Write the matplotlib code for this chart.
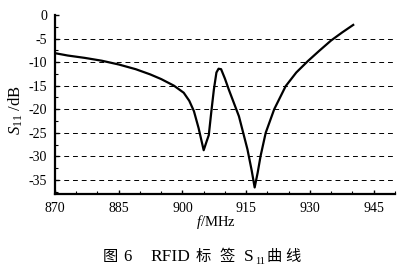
import matplotlib
matplotlib.use("Agg")
import matplotlib.pyplot as plt
import numpy as np
from matplotlib.ticker import MultipleLocator

# S11 curve
freq = [870, 873, 877, 881, 885, 889, 892.4, 895, 898, 900.3, 901.6, 902.7, 903.8, 905.0,
        905.7, 906.2, 906.8, 907.4, 908.0, 908.5, 909.1, 910.0, 910.9, 913.3, 915.3, 916.3, 917.0,
        917.7, 918.4, 919.6, 921.6, 924.3, 926.8, 929.5, 932.2, 935.0, 937.6, 940.2]
s11 = [-8.1, -8.6, -9.1, -9.7, -10.5, -11.5, -12.6, -13.6, -15.0, -16.5, -18.2, -20.4, -24.0, -28.7,
       -26.8, -25.5, -20.5, -15.8, -12.2, -11.4, -11.5, -13.5, -15.8, -21.5, -28.5, -33.0, -36.6,
       -33.5, -29.9, -25.0, -20.0, -15.1, -12.2, -9.8, -7.6, -5.4, -3.7, -2.1]

xticks = [870, 885, 900, 915, 930, 945]
yticks = [0, -5, -10, -15, -20, -25, -30, -35]
grid_levels = [-5, -10, -15, -20, -25, -30, -35]

plt.rcParams['font.family'] = ['Liberation Serif', 'Noto Sans CJK SC']
plt.rcParams['mathtext.fontset'] = 'custom'
plt.rcParams['mathtext.rm'] = 'Liberation Serif'
plt.rcParams['mathtext.it'] = 'Liberation Serif:italic'

W, H = 418, 278
fig = plt.figure(figsize=(W / 100, H / 100), dpi=100)
ax = fig.add_axes([0.1316, 0.302, 0.813, 0.644])

for g in grid_levels:
    ax.axhline(g, color="black", lw=0.7, ls=(0, (5, 4)), zorder=1)

ax.plot(freq, s11, color="black", lw=1.6, zorder=3)

ax.set_xlim(870, 950)
ax.set_ylim(-38, 0)
ax.set_xticks(xticks)
ax.set_yticks(yticks)
ax.set_yticklabels([str(v) for v in yticks])
ax.xaxis.set_minor_locator(MultipleLocator(5))
ax.yaxis.set_minor_locator(MultipleLocator(2.5))
ax.tick_params(direction="in", labelsize=10, length=3, width=1)
ax.tick_params(axis="x", pad=6)
ax.tick_params(axis="y", pad=5.5)
ax.tick_params(which="minor", direction="in", length=2, width=0.8)

for s in ["top", "right"]:
    ax.spines[s].set_visible(False)
for s in ["left", "bottom"]:
    ax.spines[s].set_linewidth(1.6)

ax.set_xlabel(r"$f$/MHz", fontsize=10.5)
ax.xaxis.set_label_coords(0.474, -0.105)
ax.set_ylabel(r"$S_{11}$ /dB", fontsize=12)
ax.yaxis.set_label_coords(-0.088, 0.47)

# caption placed piece by piece (CJK must not go through mathtext)
base = 1 - 261 / H
caption = [("图", 103, 11), ("6", 123, 12), ("RFID", 150, 12.5), ("标", 196, 11),
           ("签", 219, 11), ("S", 244, 12.5), ("曲", 267, 11), ("线", 285, 11)]
for txt, px, fs in caption:
    fig.text(px / W, base, txt, fontsize=fs, ha="left", va="baseline")
fig.text(255 / W, base - 3 / H, "11", fontsize=7.5, ha="left", va="baseline")

plt.savefig("out.png", dpi=100)
